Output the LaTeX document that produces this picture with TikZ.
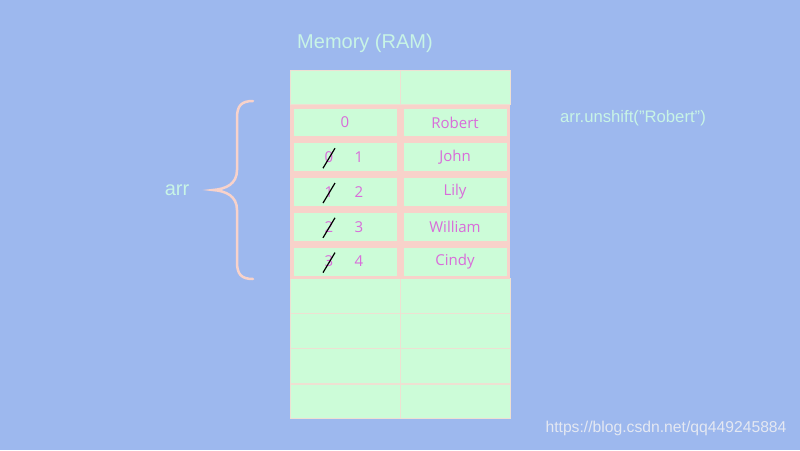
\documentclass[tikz,border=0pt]{standalone}
\usepackage{fontspec}
\setmainfont{Liberation Sans}
\newfontfamily\cellfont{Open Sans}
\definecolor{bg}{HTML}{9DB8EE}
\definecolor{cellgreen}{HTML}{CCFCD8}
\definecolor{pinkline}{HTML}{F8D2CA}
\definecolor{gridline}{HTML}{EEE0D2}
\definecolor{magtext}{HTML}{D96CDA}
\definecolor{lighttext}{HTML}{C8F4E6}
\definecolor{wmark}{HTML}{E4E8F2}
\begin{document}
\begin{tikzpicture}[x=1pt,y=-1pt,
  cell/.style={rectangle,fill=cellgreen,draw=gridline,line width=0.8pt,minimum width=110pt,minimum height=34.8pt,inner sep=0pt,anchor=center},
  hcell/.style={cell,draw=pinkline,line width=3.5pt,minimum width=106.5pt,minimum height=31.3pt},
  val/.style={font=\cellfont\fontsize{15}{17}\selectfont,text=magtext},
  label/.style={font=\fontsize{20}{23}\selectfont,text=lighttext},
  strike/.style={draw=black,line width=1.2pt}]
\fill[bg] (0,0) rectangle (800,450);
\useasboundingbox (0,0) rectangle (800,450);
% plain rows
\node[cell] (l0) at (345,87.4) {};
\node[cell] (r0) at (455,87.4) {};
\node[cell] (l6) at (345,296.2) {};
\node[cell] (r6) at (455,296.2) {};
\node[cell] (l7) at (345,331) {};
\node[cell] (r7) at (455,331) {};
\node[cell] (l8) at (345,365.8) {};
\node[cell] (r8) at (455,365.8) {};
\node[cell,minimum height=33.5pt] (l9) at (345,401.2) {};
\node[cell,minimum height=33.5pt] (r9) at (455,401.2) {};
% highlighted rows
\node[hcell] (l1) at (345,122.4) {};
\node[hcell] (r1) at (455,122.4) {};
\node[hcell] (l2) at (345,157.2) {};
\node[hcell] (r2) at (455,157.2) {};
\node[hcell] (l3) at (345,192) {};
\node[hcell] (r3) at (455,192) {};
\node[hcell] (l4) at (345,226.8) {};
\node[hcell] (r4) at (455,226.8) {};
\node[hcell] (l5) at (345,261.6) {};
\node[hcell] (r5) at (455,261.6) {};
% values
\node[val] at (l1) {0};
\node[val] at (r1) {Robert};
\node[val] at (r2) {John};
\node[val] at (r3) {Lily};
\node[val] at (r4) {William};
\node[val] at (r5) {Cindy};
% old and new indices
\foreach \n/\old/\new in {2/0/1,3/1/2,4/2/3,5/3/4}{
  \node[val] (o\n) at ([xshift=-16pt]l\n.center) {\old};
  \node[val] (n\n) at ([xshift=14pt]l\n.center) {\new};
  \draw[strike] ([xshift=-6pt,yshift=-11pt]o\n.center) -- ([xshift=6pt,yshift=9pt]o\n.center);
}
% labels
\node[label] (title) at (365,43) {Memory (RAM)};
\node[label] (arr) at (177,190) {arr};
\node[font=\fontsize{16.7}{19}\selectfont,text=lighttext] (code) at (633,118) {arr.unshift(”Robert”)};
\node[font=\fontsize{15.7}{18}\selectfont,text=wmark] (wm) at (666,428) {https://blog.csdn.net/qq449245884};
% brace
\draw[pinkline,line width=2.5pt,line cap=round]
  (253,101) .. controls (241,101) and (237,106) .. (237,118) -- (237,170)
  .. controls (237,184) and (226,189) .. (213,190)
  .. controls (226,191) and (237,196) .. (237,210) -- (237,262)
  .. controls (237,274) and (241,279) .. (253,279);
\end{tikzpicture}
\end{document}
